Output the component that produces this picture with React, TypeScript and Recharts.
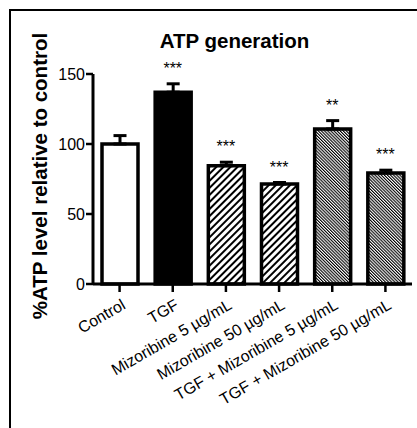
import React from 'react';
import { ComposedChart, Bar, Line, XAxis, YAxis, ErrorBar, Cell, LabelList } from 'recharts';

const categories = [
  'Control',
  'TGF',
  'Mizoribine 5 µg/mL',
  'Mizoribine 50 µg/mL',
  'TGF + Mizoribine 5 µg/mL',
  'TGF + Mizoribine 50 µg/mL',
];
const means = [100, 137, 84.5, 71.5, 110.7, 79.3];
const errors = [6, 6, 2.5, 1, 6, 2];
const significance = ['', '***', '***', '***', '**', '***'];
const yTicks = [0, 50, 100, 150];

const FILLS = ['#ffffff', '#000000', 'url(#hatchA)', 'url(#hatchA)', 'url(#hatchB)', 'url(#hatchB)'];
const FONT = '"Liberation Sans", Arial, Helvetica, sans-serif';

const data = categories.map((name, i) => ({
  name,
  value: means[i],
  err: [0, errors[i]],
  errTop: means[i] + errors[i],
  sig: significance[i],
}));

const XTick = (props: any) => {
  const { x, y, payload } = props;
  const ax = x + 7;
  const ay = y + 14;
  return (
    <text
      x={ax}
      y={ay}
      textAnchor="end"
      fontSize={16}
      fontFamily={FONT}
      fill="#000"
      transform={`rotate(-30, ${ax}, ${ay})`}
    >
      {payload.value}
    </text>
  );
};

const YLabel = (props: any) => {
  const vb = props.viewBox || { x: 0, y: 74, width: 93, height: 210 };
  const cx = vb.x + 47;
  const cy = vb.y + vb.height / 2 - 3;
  return (
    <text
      x={cx}
      y={cy}
      textAnchor="middle"
      fontSize={20.5}
      fontWeight="bold"
      fontFamily={FONT}
      fill="#000"
      transform={`rotate(-90, ${cx}, ${cy})`}
    >
      %ATP level relative to control
    </text>
  );
};

export default function App() {
  return (
    <div style={{ position: 'absolute', left: 0, top: 0, width: 417, height: 428, background: '#fff', overflow: 'hidden' }}>
      <div
        style={{
          position: 'absolute',
          left: 9,
          top: 9,
          width: 430,
          height: 440,
          borderLeft: '2px solid #000',
          borderTop: '2px solid #000',
        }}
      />
      <div
        style={{
          position: 'absolute',
          left: 0,
          width: 469,
          top: 31,
          textAlign: 'center',
          fontFamily: FONT,
          fontWeight: 'bold',
          fontSize: 20.5,
          lineHeight: '20px',
          color: '#000',
        }}
      >
        ATP generation
      </div>
      <div style={{ position: 'absolute', left: 0, top: 0 }}>
        <ComposedChart
          width={417}
          height={428}
          data={data}
          margin={{ top: 74, right: 5, bottom: 0, left: 0 }}
        >
          <defs>
            <pattern id="hatchA" patternUnits="userSpaceOnUse" width="5" height="5" patternTransform="rotate(45)">
              <rect x="0" y="0" width="5" height="5" fill="#fff" />
              <rect x="0" y="0" width="2" height="5" fill="#000" />
            </pattern>
            <pattern id="hatchB" patternUnits="userSpaceOnUse" width="2.2" height="2.2" patternTransform="rotate(-45)">
              <rect x="0" y="0" width="2.2" height="2.2" fill="#fff" />
              <rect x="0" y="0" width="1.1" height="2.2" fill="#000" />
            </pattern>
          </defs>
          <XAxis
            dataKey="name"
            height={144}
            interval={0}
            tick={<XTick />}
            tickSize={8}
            axisLine={{ stroke: '#000', strokeWidth: 3 }}
            tickLine={{ stroke: '#000', strokeWidth: 2.5 }}
          />
          <YAxis
            width={93}
            domain={[0, 150]}
            ticks={yTicks}
            interval={0}
            tickSize={7}
            tickMargin={1}
            tick={{ fontSize: 16, fontFamily: FONT, fill: '#000' }}
            axisLine={{ stroke: '#000', strokeWidth: 3 }}
            tickLine={{ stroke: '#000', strokeWidth: 2.5 }}
            label={<YLabel />}
          />
          <Bar dataKey="value" barSize={36} stroke="#000" strokeWidth={3.5} isAnimationActive={false}>
            {data.map((d, i) => (
              <Cell key={d.name} fill={FILLS[i]} />
            ))}
            <ErrorBar dataKey="err" width={6.5} stroke="#000" strokeWidth={3} />
          </Bar>
          <Line
            dataKey="errTop"
            stroke="none"
            dot={false}
            activeDot={false}
            isAnimationActive={false}
            legendType="none"
          >
            <LabelList
              dataKey="sig"
              position="top"
              offset={10}
              style={{ fontSize: 16, fontFamily: FONT, fill: '#000' }}
            />
          </Line>
        </ComposedChart>
      </div>
    </div>
  );
}
